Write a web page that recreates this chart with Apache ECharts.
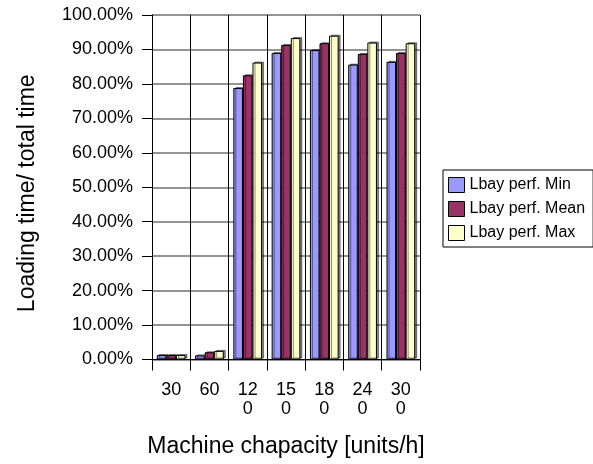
<!DOCTYPE html>
<html>
<head>
<meta charset="utf-8">
<script src="https://cdn.jsdelivr.net/npm/echarts@6/dist/echarts.min.js"></script>
<style>html,body{margin:0;padding:0;background:#fff}#c{width:593px;height:464px}</style>
</head>
<body>
<div id="c"></div>
<script>
var categories = ['30', '60', '120', '150', '180', '240', '300'];
var seriesNames = ['Lbay perf. Min', 'Lbay perf. Mean', 'Lbay perf. Max'];
var minValues  = [0.013, 0.012, 0.788, 0.890, 0.898, 0.856, 0.864];
var meanValues = [0.013, 0.021, 0.825, 0.913, 0.918, 0.887, 0.890];
var maxValues  = [0.013, 0.025, 0.862, 0.933, 0.940, 0.920, 0.918];
var yTicks = [0, 0.1, 0.2, 0.3, 0.4, 0.5, 0.6, 0.7, 0.8, 0.9, 1.0];
var colors = ['#9999FF', '#993366', '#FFFFCC'];

var FONT = 'Liberation Sans, Arial, sans-serif';
var chart = echarts.init(document.getElementById('c'), null, {renderer: 'canvas'});

function barSeries(name, data, color) {
  return {
    name: name,
    type: 'bar',
    data: data,
    barGap: '0%',
    barCategoryGap: '25%',
    itemStyle: {
      color: color,
      borderColor: '#000',
      borderWidth: 1,
      shadowColor: 'rgba(0,0,0,0.45)',
      shadowOffsetX: 2,
      shadowOffsetY: -1,
      shadowBlur: 0
    }
  };
}

chart.setOption({
  animation: false,
  backgroundColor: '#fff',
  textStyle: {fontFamily: FONT, color: '#000'},
  grid: {left: 152, right: 173, top: 15, bottom: 104.5, containLabel: false},
  legend: {
    orient: 'vertical',
    left: 443,
    top: 170,
    padding: [7, 8, 6, 5],
    itemWidth: 16,
    itemHeight: 15,
    itemGap: 8,
    borderColor: '#000',
    borderWidth: 1,
    icon: 'rect',
    itemStyle: {borderColor: '#000', borderWidth: 1},
    textStyle: {fontFamily: FONT, fontSize: 16, color: '#000'},
    data: seriesNames
  },
  xAxis: {
    type: 'category',
    data: categories,
    boundaryGap: true,
    name: 'Machine chapacity [units/h]',
    nameLocation: 'middle',
    nameGap: 76,
    nameTextStyle: {fontFamily: FONT, fontSize: 23, color: '#000'},
    axisLine: {show: true, lineStyle: {color: '#000', width: 1}},
    axisTick: {show: true, length: 11, lineStyle: {color: '#000'}},
    splitLine: {show: true, lineStyle: {color: '#000', width: 1}},
    axisLabel: {
      fontFamily: FONT, fontSize: 18, color: '#000', margin: 21, lineHeight: 19,
      verticalAlign: 'top',
      formatter: function (v) { return v.length > 2 ? v.slice(0, 2) + '\n' + v.slice(2) : v; }
    }
  },
  yAxis: {
    type: 'value',
    min: yTicks[0],
    max: yTicks[yTicks.length - 1],
    interval: 0.1,
    name: 'Loading time/ total time',
    nameLocation: 'middle',
    nameRotate: 90,
    nameGap: 113,
    nameTextStyle: {fontFamily: FONT, fontSize: 23, color: '#000', padding: [0, 12, 0, 0]},
    axisLine: {show: true, lineStyle: {color: '#000', width: 1}},
    axisTick: {show: true, length: 10, lineStyle: {color: '#000'}},
    splitLine: {show: true, lineStyle: {color: '#707070', width: 1.5}},
    axisLabel: {
      fontFamily: FONT, fontSize: 18, color: '#000', margin: 19,
      formatter: function (v) { return (v * 100).toFixed(2) + '%'; }
    }
  },
  series: [
    barSeries(seriesNames[0], minValues, colors[0]),
    barSeries(seriesNames[1], meanValues, colors[1]),
    barSeries(seriesNames[2], maxValues, colors[2])
  ]
});
</script>
</body>
</html>
